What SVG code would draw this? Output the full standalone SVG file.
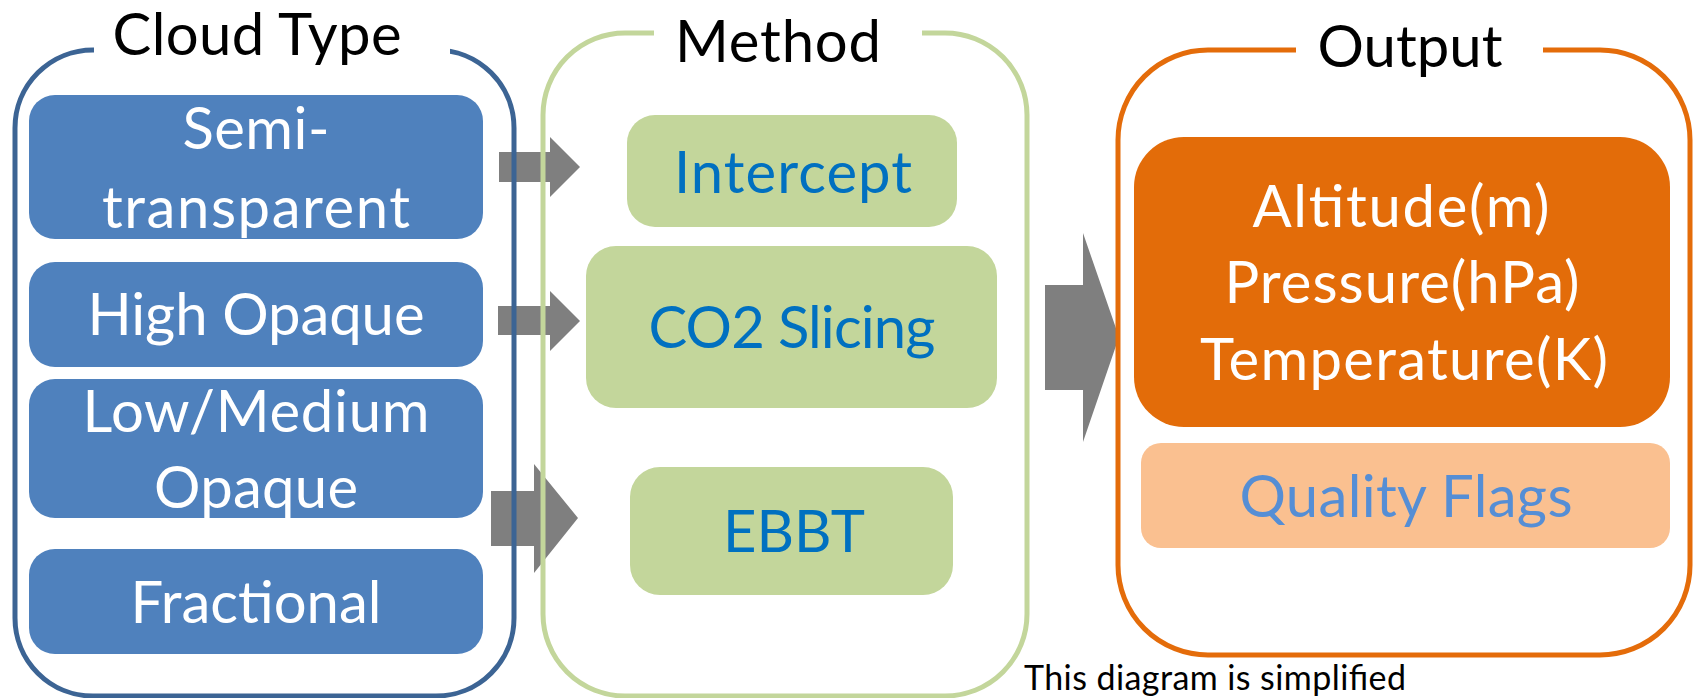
<svg xmlns="http://www.w3.org/2000/svg" width="1694" height="698" viewBox="0 0 1694 698">
<style>
text{font-family:Lato,"Open Sans","Liberation Sans",sans-serif;text-anchor:middle}
.t{font-size:58px;fill:#000}
.w{font-size:58px;fill:#fff}
.g{font-size:58px;fill:#0070C0}
.q{font-size:58px;fill:#558ED5}
.note{font-size:34px;fill:#000;text-anchor:start}
.arrow{fill:#7F7F7F}
.cont{fill:none;stroke-width:5}
.blue{fill:#4F81BD}
.green{fill:#C3D69B}
</style>
<defs>
<mask id="m1" maskUnits="userSpaceOnUse" x="0" y="0" width="1694" height="698"><rect x="0" y="0" width="1694" height="698" fill="#fff"/><rect x="94" y="20" width="356" height="60" fill="#000"/></mask>
<mask id="m2" maskUnits="userSpaceOnUse" x="0" y="0" width="1694" height="698"><rect x="0" y="0" width="1694" height="698" fill="#fff"/><rect x="654" y="10" width="268" height="60" fill="#000"/></mask>
<mask id="m3" maskUnits="userSpaceOnUse" x="0" y="0" width="1694" height="698"><rect x="0" y="0" width="1694" height="698" fill="#fff"/><rect x="1296" y="20" width="247" height="60" fill="#000"/></mask>
</defs>
<g id="connectors">
<polygon class="arrow" points="499,152 550,152 550,137 580,167 550,197 550,182 499,182"/>
<polygon class="arrow" points="498,306 550,306 550,291 580,321 550,351 550,335 498,335"/>
<polygon class="arrow" points="491,491 534,491 534,464 578,518 534,573 534,546 491,546"/>
<polygon class="arrow" points="1045,285 1083,285 1083,233 1119,337 1083,442 1083,390 1045,390"/>
</g>
<g id="cloud-type">
<rect class="cont" x="15" y="50" width="499" height="646" rx="78" ry="78" stroke="#3C6494" mask="url(#m1)"/>
<text class="t" x="257" y="55" textLength="289">Cloud Type</text>
</g>
<g id="semi-transparent">
<rect class="blue" x="29" y="95" width="454" height="144" rx="26"/>
<text class="w" x="256" y="149" textLength="147">Semi-</text>
<text class="w" x="256" y="228" textLength="308">transparent</text>
</g>
<g id="high-opaque">
<rect class="blue" x="29" y="262" width="454" height="105" rx="26"/>
<text class="w" x="256" y="335" textLength="337">High Opaque</text>
</g>
<g id="low-medium-opaque">
<rect class="blue" x="29" y="379" width="454" height="139" rx="26"/>
<text class="w" x="256" y="432" textLength="347">Low/Medium</text>
<text class="w" x="256" y="508" textLength="204">Opaque</text>
</g>
<g id="fractional">
<rect class="blue" x="29" y="549" width="454" height="105" rx="26"/>
<text class="w" x="256" y="623">Fractional</text>
</g>
<g id="method">
<rect class="cont" x="543" y="33" width="484" height="663" rx="82" ry="82" stroke="#C3D69B" mask="url(#m2)"/>
<text class="t" x="778" y="62" textLength="206">Method</text>
</g>
<g id="intercept">
<rect class="green" x="627" y="115" width="330" height="112" rx="28"/>
<text class="g" x="793" y="193" textLength="238">Intercept</text>
</g>
<g id="co2-slicing">
<rect class="green" x="586" y="246" width="411" height="162" rx="30"/>
<text class="g" x="792" y="348" textLength="287">CO2 Slicing</text>
</g>
<g id="ebbt">
<rect class="green" x="630" y="467" width="323" height="128" rx="30"/>
<text class="g" x="794" y="552">EBBT</text>
</g>
<g id="output">
<rect class="cont" x="1118" y="50" width="572" height="605" rx="90" ry="90" stroke="#E46C0A" mask="url(#m3)"/>
<text class="t" x="1410" y="67" textLength="185">Output</text>
</g>
<g id="output-values">
<rect x="1134" y="137" width="536" height="290" rx="50" fill="#E36C09"/>
<text class="w" x="1401" y="227" textLength="297">Altitude(m)</text>
<text class="w" x="1402" y="303" textLength="355">Pressure(hPa)</text>
<text class="w" x="1404" y="380" textLength="408">Temperature(K)</text>
</g>
<g id="quality-flags">
<rect x="1141" y="443" width="529" height="105" rx="20" fill="#FAC090"/>
<text class="q" x="1406" y="517" textLength="333">Quality Flags</text>
</g>
<g id="note">
<text class="note" x="1024" y="690" textLength="382">This diagram is simplified</text>
</g>
</svg>
